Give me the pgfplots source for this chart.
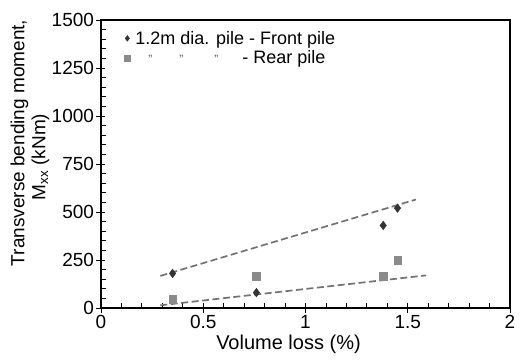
\documentclass[border=0pt]{standalone}
\usepackage{pgfplots}
\pgfplotsset{compat=1.18}
\usepackage{fontspec}
\setmainfont{Liberation Sans}
\setsansfont{Liberation Sans}
\definecolor{frontc}{HTML}{333333}
\definecolor{rearc}{HTML}{8A8A8A}
\definecolor{trendc}{HTML}{727272}
\newcommand{\dm}{\makebox[0pt]{\color{black!65}\fontsize{12}{12}\selectfont"}}
\begin{document}
\begin{tikzpicture}
\begin{axis}[
  name=ax,
  scale only axis,
  width=409pt, height=288pt,
  xmin=0, xmax=2, ymin=0, ymax=1500,
  xtick={0,0.5,1,1.5,2},
  xticklabels={0,0.5,1,1.5,2},
  ytick={0,250,500,750,1000,1250,1500},
  xtick pos=left, ytick pos=left,
  tick align=center,
  major tick length=9pt,
  extra x ticks={0.1,0.2,0.3,0.4,0.6,0.7,0.8,0.9,1.1,1.2,1.3,1.4,1.6,1.7,1.8,1.9},
  extra x tick labels={},
  extra y ticks={50,100,150,200,300,350,400,450,550,600,650,700,800,850,900,950,1050,1100,1150,1200,1300,1350,1400,1450},
  extra y tick labels={},
  extra tick style={tick align=inside, major tick length=5pt},
  axis line style={line width=1.3pt},
  every tick/.style={black, line width=0.9pt},
  /pgf/number format/assume math mode=true,
  /pgf/number format/1000 sep={},
  ticklabel style={font=\fontsize{19}{21}\selectfont},
  xticklabel style={yshift=1pt},
  yticklabel style={xshift=1pt},
  xlabel={Volume loss (\%)},
  xlabel style={font=\fontsize{20}{22}\selectfont, xshift=-17pt, yshift=5pt},
  ylabel={Transverse bending moment,\\M$_{\mathrm{xx}}$ (kNm)\hspace*{28pt}},
  every axis y label/.style={at={(rel axis cs:0,0.5)}, rotate=90, anchor=center, xshift=21pt, yshift=71pt, align=center, font=\fontsize{19}{21}\selectfont},
  legend style={draw=none, fill=none, at={(0.042,0.976)}, anchor=north west, font=\fontsize{18}{19}\selectfont, row sep=1pt},
  legend cell align=left,
  legend image code/.code={\path[draw=none, fill=none] (0pt,-3pt) rectangle (12pt,3pt); \draw[#1, mark size=2.9pt] plot coordinates {(6pt,0pt)};},
]
\addplot[only marks, mark=diamond*, mark size=4.3pt, color=frontc] coordinates {
  (0.35,180) (0.76,80) (1.38,430) (1.45,520)
};
\addlegendentry{1.2m dia. pile - Front pile}
\addplot[only marks, mark=square*, mark size=3.8pt, color=rearc] coordinates {
  (0.35,45) (0.76,165) (1.38,165) (1.45,250)
};
\addlegendentry{\hspace*{15pt}\dm\hspace*{31pt}\dm\hspace*{35pt}\dm\hspace*{26pt}- Rear pile}
\addplot[trendc, line width=1.7pt, dash pattern=on 7pt off 3.5pt, forget plot] coordinates {
  (0.29,167) (1.54,565)
};
\addplot[trendc, line width=1.7pt, dash pattern=on 7pt off 3.5pt, forget plot] coordinates {
  (0.29,14) (1.59,170)
};
\end{axis}
\pgfresetboundingbox
\path[use as bounding box] ([xshift=-101pt,yshift=-56pt]ax.south west) rectangle ([xshift=15pt,yshift=20pt]ax.north east);
\end{tikzpicture}
\end{document}
